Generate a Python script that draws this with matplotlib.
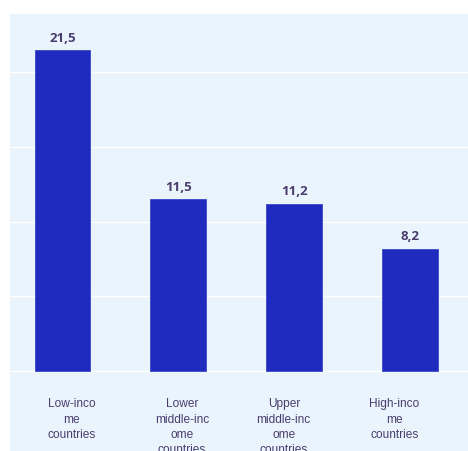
import matplotlib
matplotlib.use("Agg")
import numpy as np
from matplotlib import pyplot as plt

categories = ["Low-inco\nme\ncountries",
              "Lower\nmiddle-inc\nome\ncountries",
              "Upper\nmiddle-inc\nome\ncountries",
              "High-inco\nme\ncountries"]
values = [21.5, 11.5, 11.2, 8.2]
value_labels = ["21,5", "11,5", "11,2", "8,2"]

bar_color = "#1f2bbe"
bg_color = "#eaf4fd"
text_color = "#4a3d6e"

W, H = 468, 452
fig = plt.figure(figsize=(W / 100, H / 100), dpi=100)
fig.patch.set_facecolor("white")
# plot area runs from 10px left / 15px top and past the bottom edge
ax = fig.add_axes([10 / W, -5 / H, 1 - 10 / W, 1 - 10 / H])
ax.set_facecolor(bg_color)

x = np.arange(len(values))
ax.bar(x, values, width=0.483, color=bar_color, edgecolor="#3a45c8",
       linewidth=0.6, zorder=3)

for xi, v, lab in zip(x, values, value_labels):
    ax.annotate(lab, (xi, v), xytext=(0, 4.5), textcoords="offset points",
                ha="center", va="bottom", fontsize=9.5, fontweight="bold",
                family="Open Sans", color=text_color)

ax.set_xlim(-0.453, 3.5)
ax.set_ylim(-5.71, 23.92)
ax.set_yticks([0, 5, 10, 15, 20])
ax.yaxis.grid(True, color="white", linewidth=1.0, zorder=0)
ax.tick_params(axis="y", left=False, labelleft=False)
ax.set_xticks([])
for s in ax.spines.values():
    s.set_visible(False)

# category labels sit a bit off the bar centres in the reference
label_shift = [0.08, 0.03, -0.09, -0.135]
for xi, dx, cat in zip(x, label_shift, categories):
    ax.annotate(cat, (xi + dx, 0), xytext=(0, -19), textcoords="offset points",
                ha="center", va="top", family="Liberation Sans", fontsize=8.6,
                color=text_color, linespacing=1.38, annotation_clip=False)

fig.savefig("out.png", dpi=100, facecolor="white")
